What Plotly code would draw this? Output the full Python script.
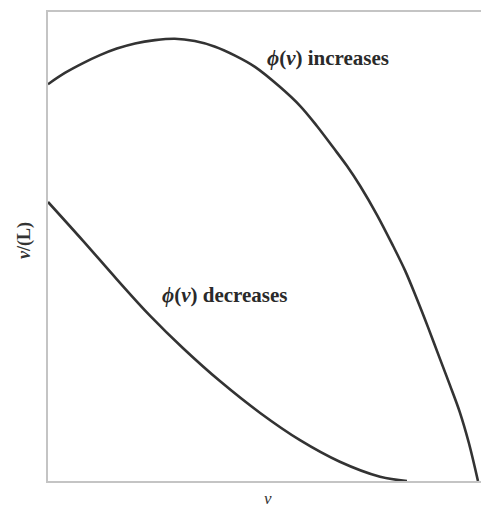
import plotly.graph_objects as go

# Curves (arbitrary units, x 0..10, y 0..10)
inc_x = [0.00, 0.39, 0.81, 1.20, 1.59, 2.01, 2.47, 2.93, 3.39, 3.86, 4.32, 4.78, 5.36,
         5.82, 6.21, 6.58, 6.91, 7.21, 7.60, 7.97, 8.25, 8.52, 8.78, 9.05, 9.28, 9.51,
         9.72, 9.93]
inc_y = [8.46, 8.70, 8.91, 9.08, 9.22, 9.33, 9.40, 9.43, 9.38, 9.26, 9.07, 8.83, 8.40,
         8.00, 7.57, 7.12, 6.71, 6.29, 5.67, 5.01, 4.48, 3.88, 3.27, 2.61, 2.05, 1.47,
         0.81, 0.00]

dec_x = [0.00, 0.81, 1.59, 2.36, 3.12, 3.97, 4.90, 5.82, 6.74, 7.67, 8.29]
dec_y = [5.95, 5.12, 4.30, 3.52, 2.83, 2.13, 1.45, 0.87, 0.41, 0.09, 0.00]

label_inc = "<i>ϕ</i>(<i>v</i>) increases"
label_dec = "<i>ϕ</i>(<i>v</i>) decreases"
x_title = "<i>v</i>"
y_title = "<i>v</i>/(L)"

FONT = "Liberation Serif, Times New Roman, serif"
LINE = "#333333"

fig = go.Figure()
fig.add_trace(go.Scatter(x=inc_x, y=inc_y, mode="lines",
                         line=dict(color=LINE, width=2.6, shape="spline", smoothing=1.0),
                         showlegend=False, hoverinfo="skip"))
fig.add_trace(go.Scatter(x=dec_x, y=dec_y, mode="lines",
                         line=dict(color=LINE, width=2.6, shape="spline", smoothing=1.0),
                         showlegend=False, hoverinfo="skip"))

fig.add_annotation(x=5.01, y=9.02, text="<b>" + label_inc + "</b>", showarrow=False,
                   xanchor="left", yanchor="middle",
                   font=dict(family=FONT, size=21, color="#2a2a2a"))
fig.add_annotation(x=2.59, y=3.97, text="<b>" + label_dec + "</b>", showarrow=False,
                   xanchor="left", yanchor="middle",
                   font=dict(family=FONT, size=21, color="#2a2a2a"))

fig.add_annotation(xref="paper", yref="paper", x=0.508, y=-0.038, text=x_title,
                   showarrow=False, xanchor="center", yanchor="middle",
                   font=dict(family=FONT, size=17, color="#333"))
fig.add_annotation(xref="paper", yref="paper", x=-0.053, y=0.512, text="<b>" + y_title + "</b>",
                   showarrow=False, textangle=-90, xanchor="center", yanchor="middle",
                   font=dict(family=FONT, size=18, color="#333"))

fig.update_xaxes(range=[0, 10], showgrid=False, zeroline=False, showticklabels=False,
                 showline=True, linecolor="#c4c4c4", linewidth=1.5, mirror=True, ticks="")
fig.update_yaxes(range=[0, 10], showgrid=False, zeroline=False, showticklabels=False,
                 showline=True, linecolor="#c4c4c4", linewidth=1.5, ticks="")

fig.update_layout(width=481, height=510,
                  margin=dict(l=48, r=0, t=12, b=29),
                  paper_bgcolor="white", plot_bgcolor="white")

fig.write_html("out.html", config={"displayModeBar": False},
               post_script="document.body.style.margin='0';document.body.style.overflow='hidden';")
